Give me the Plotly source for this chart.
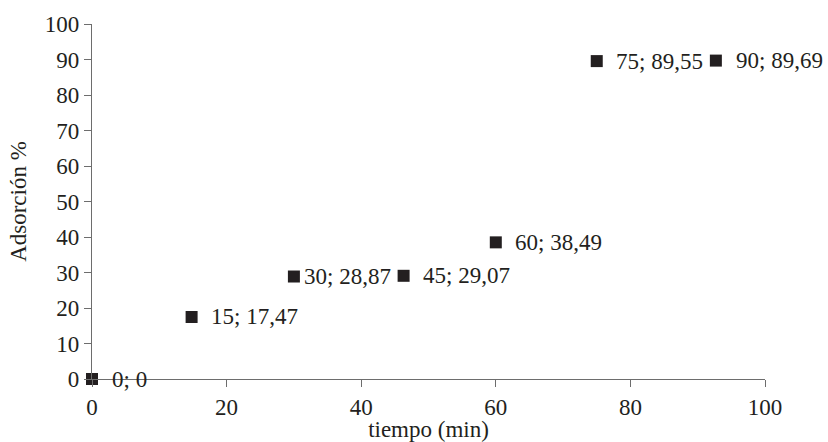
import plotly.graph_objects as go

# Data
tiempo = [0, 14.8, 30, 46.3, 60, 75, 92.7]          # plotted x positions
adsorcion = [0, 17.47, 28.87, 29.07, 38.49, 89.55, 89.69]
etiquetas = ["0; 0", "15; 17,47", "30; 28,87", "45; 29,07",
             "60; 38,49", "75; 89,55", "90; 89,69"]
desplaz = [21, 20, 11, 20, 20, 20, 21]  # label x offsets in px

x_ticks = [0, 20, 40, 60, 80, 100]
y_ticks = [0, 10, 20, 30, 40, 50, 60, 70, 80, 90, 100]

FONT = "Liberation Serif"
TXT = "#231f20"
AX = "#6d6d6d"
FS = 23

fig = go.Figure()
fig.add_trace(go.Scatter(
    x=tiempo, y=adsorcion, mode="markers",
    marker=dict(symbol="square", size=12, color="#231f20"),
    cliponaxis=False, showlegend=False,
))

for xv, yv, t, dx in zip(tiempo, adsorcion, etiquetas, desplaz):
    fig.add_annotation(x=xv, y=yv, text=t, showarrow=False,
                       xanchor="left", yanchor="middle", xshift=dx - 3,
                       font=dict(family=FONT, size=FS, color=TXT))

fig.update_layout(
    width=828, height=442,
    margin=dict(l=92, r=63, t=24, b=63),
    paper_bgcolor="white", plot_bgcolor="white",
    font=dict(family=FONT, size=FS, color=TXT),
)
fig.update_xaxes(
    range=[0, 100], tickvals=x_ticks, ticks="outside", ticklen=7,
    tickcolor=AX, showline=True, linecolor=AX, linewidth=1.3,
    showgrid=False, zeroline=False, automargin=False,
    title=dict(text="tiempo (min)", font=dict(family=FONT, size=FS, color=TXT), standoff=0),
    tickfont=dict(family=FONT, size=FS, color=TXT),
)
fig.update_yaxes(
    range=[0, 100], tickvals=y_ticks, ticks="outside", ticklen=7,
    tickcolor=AX, showline=True, linecolor=AX, linewidth=1.3,
    showgrid=False, zeroline=False, automargin=False,
    title=dict(text="Adsorción %", font=dict(family=FONT, size=FS, color=TXT), standoff=11),
    tickfont=dict(family=FONT, size=FS, color=TXT),
)

fig.write_html("out.html", config={"displayModeBar": False},
               post_script="document.body.style.margin='0';")
